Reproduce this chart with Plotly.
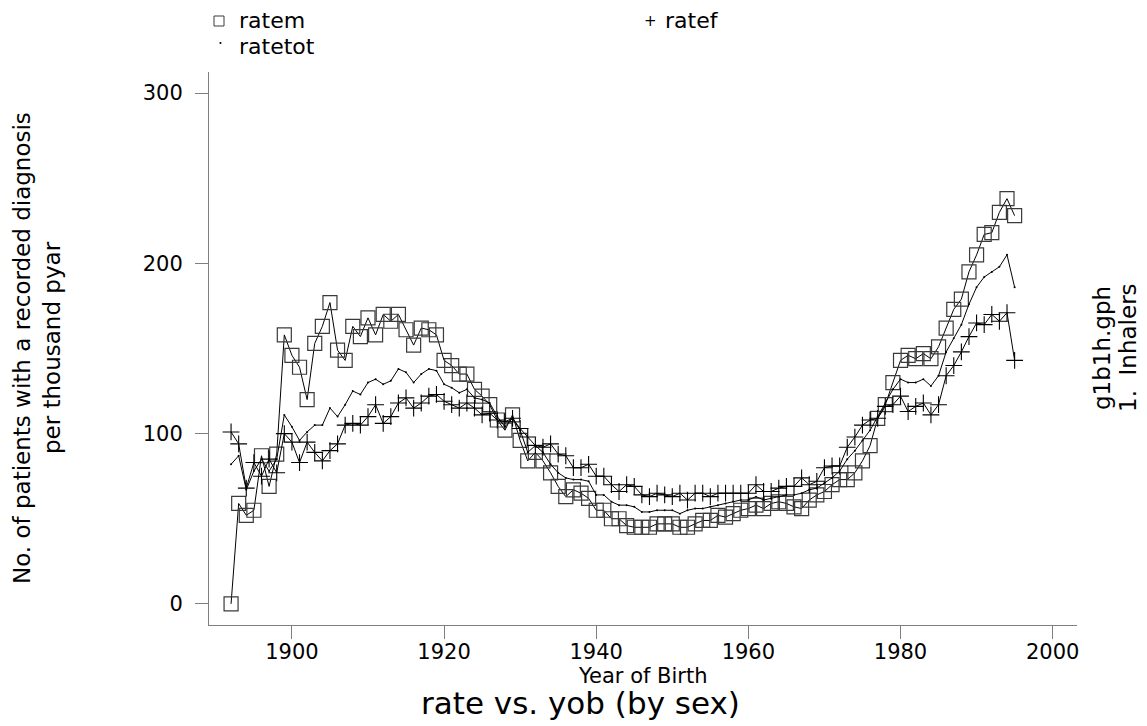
import plotly.graph_objects as go

# Year of birth, 1892-1995
yob = list(range(1892, 1996))

# Rate per thousand person-years at risk, males
ratem = [
    0, 59, 52, 55, 87, 69, 88, 158, 146, 139,
    120, 153, 163, 177, 149, 143, 163, 157, 168, 158,
    170, 166, 170, 161, 152, 162, 161, 158, 143, 140,
    135, 135, 126, 122, 117, 108, 102, 111, 96, 84,
    89, 84, 77, 69, 63, 67, 65, 62, 55, 55,
    50, 50, 46, 45, 45, 45, 47, 47, 47, 45,
    45, 47, 49, 49, 52, 51, 53, 55, 56, 58,
    56, 59, 60, 59, 57, 56, 61, 64, 66, 70,
    73, 73, 77, 84, 93, 109, 117, 130, 143, 146,
    144, 147, 144, 151, 162, 173, 179, 195, 205, 217,
    218, 230, 238, 228,
]

# Rate per thousand person-years at risk, females
ratef = [
    101, 94, 68, 83, 75, 85, 77, 100, 95, 83,
    95, 89, 84, 90, 94, 105, 106, 105, 110, 117,
    106, 110, 118, 121, 115, 118, 122, 123, 119, 117,
    115, 118, 115, 111, 112, 108, 107, 109, 103, 98,
    93, 92, 94, 88, 87, 80, 80, 82, 75, 75,
    70, 66, 70, 69, 64, 63, 65, 64, 63, 65,
    61, 65, 65, 63, 65, 65, 65, 65, 65, 70,
    66, 66, 68, 69, 69, 74, 70, 72, 80, 81,
    81, 92, 98, 105, 108, 109, 116, 117, 122, 113,
    116, 118, 111, 117, 134, 140, 148, 157, 165, 164,
    170, 166, 171, 143,
]

# Rate per thousand person-years at risk, both sexes
ratetot = [
    82, 87, 67, 78, 85, 78, 85, 111, 104, 96,
    101, 105, 105, 115, 110, 117, 125, 123, 130, 132,
    129, 131, 138, 136, 130, 135, 138, 137, 129, 127,
    124, 126, 121, 120, 118, 110, 104, 109, 102, 89,
    93, 89, 82, 77, 74, 73, 73, 72, 64, 64,
    60, 58, 58, 57, 54, 54, 55, 55, 55, 53,
    55, 56, 56, 57, 58, 59, 60, 61, 61, 63,
    61, 62, 63, 64, 64, 65, 67, 68, 71, 74,
    78, 85, 90, 96, 102, 110, 118, 126, 132, 130,
    130, 132, 128, 134, 148, 156, 164, 176, 186, 192,
    195, 198, 205, 186,
]

x_ticks = [1900, 1920, 1940, 1960, 1980, 2000]
y_ticks = [0, 100, 200, 300]

FONT = "DejaVu Sans, Verdana, sans-serif"
INK = "#000000"
AXIS = "#7f7f7f"

W, H = 1147, 726
ML, MR, MT, MB = 209, 70, 72, 101
PW, PH = W - ML - MR, H - MT - MB


def px_x(px):
    """Horizontal pixel position -> paper fraction."""
    return (px - ML) / PW


def px_y(py):
    """Vertical pixel position (from top) -> paper fraction."""
    return 1 - (py - MT) / PH


fig = go.Figure()

fig.add_trace(go.Scatter(
    x=yob, y=ratem, name="ratem", mode="lines+markers",
    line=dict(color=INK, width=1),
    marker=dict(symbol="square-open", size=14, color="#3a3a3a",
                line=dict(width=1.2, color="#3a3a3a")),
))
fig.add_trace(go.Scatter(
    x=yob, y=ratef, name="ratef", mode="lines+markers",
    line=dict(color=INK, width=1),
    marker=dict(symbol="cross-thin-open", size=12, color=INK,
                line=dict(width=1.1, color=INK)),
))
fig.add_trace(go.Scatter(
    x=yob, y=ratetot, name="ratetot", mode="lines+markers",
    line=dict(color=INK, width=1),
    marker=dict(symbol="circle", size=2, color=INK),
))

axis_common = dict(
    showline=True, linecolor=AXIS, linewidth=1,
    ticks="outside", ticklen=13, tickcolor=AXIS, tickwidth=1,
    showgrid=False, zeroline=False,
    tickfont=dict(family=FONT, size=21, color=INK),
)

fig.update_xaxes(range=[1889.1, 2003.2], tickvals=x_ticks,
                 ticklabelstandoff=-5, **axis_common)
fig.update_yaxes(range=[-12.4, 312.4], tickvals=y_ticks,
                 ticklabelstandoff=8, **axis_common)

# legend key: open square for ratem
fig.add_shape(type="rect", xref="paper", yref="paper",
              x0=px_x(214), x1=px_x(224), y0=px_y(26), y1=px_y(16),
              line=dict(color="#3a3a3a", width=1))

annotations = [
    # legend
    dict(x=237, y=21, text="ratem", xanchor="left", size=22),
    dict(x=650, y=21, text="+", size=15),
    dict(x=663, y=21, text="ratef", xanchor="left", size=22),
    dict(x=220, y=44, text="\u00b7", size=15),
    dict(x=237, y=46, text="ratetot", xanchor="left", size=22),
    # axis titles
    dict(x=22, y=348, text="No. of patients with a recorded diagnosis",
         textangle=-90, size=23),
    dict(x=52, y=348, text="per thousand pyar", textangle=-90, size=23),
    dict(x=642, y=676, text="Year of Birth", size=21),
    dict(x=580, y=703, text="rate vs. yob (by sex)", size=31),
    # side note
    dict(x=1102, y=348, text="g1b1h.gph", textangle=-90, size=23),
    dict(x=1128, y=348, text="1.  Inhalers", textangle=-90, size=23),
]
for a in annotations:
    size = a.pop("size")
    fig.add_annotation(
        xref="paper", yref="paper", showarrow=False,
        x=px_x(a.pop("x")), y=px_y(a.pop("y")),
        xanchor=a.pop("xanchor", "center"), yanchor="middle",
        font=dict(family=FONT, size=size, color=INK),
        **a,
    )

fig.update_layout(
    width=W, height=H,
    margin=dict(l=ML, r=MR, t=MT, b=MB, pad=0),
    paper_bgcolor="white", plot_bgcolor="white",
    showlegend=False,
    font=dict(family=FONT, color=INK),
)

fig.write_html("out.html")
